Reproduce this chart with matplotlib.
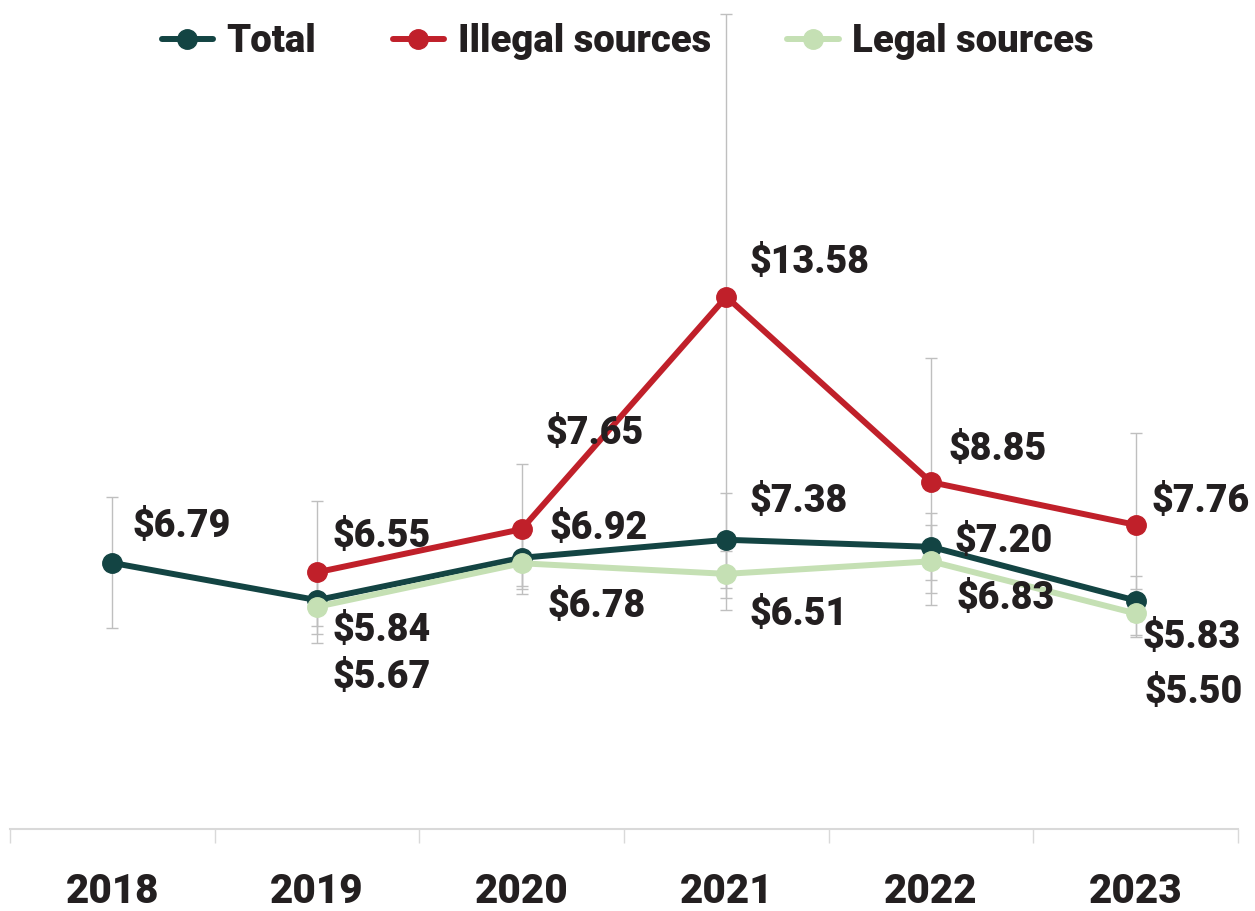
import numpy as np
import matplotlib.pyplot as plt

years = ['2018', '2019', '2020', '2021', '2022', '2023']
total = [6.79, 5.84, 6.92, 7.38, 7.20, 5.83]
illegal = [np.nan, 6.55, 7.65, 13.58, 8.85, 7.76]
legal = [np.nan, 5.67, 6.78, 6.51, 6.83, 5.50]

# confidence bounds (low, high)
total_lo = [5.13, 5.18, 6.20, 6.15, 6.35, 5.30]
total_hi = [8.47, 6.50, 7.60, 8.57, 8.06, 6.45]
illegal_lo = [np.nan, 4.74, 5.99, 5.59, 5.71, 4.95]
illegal_hi = [np.nan, 8.37, 9.31, 20.80, 12.02, 10.10]
legal_lo = [np.nan, 4.97, 6.12, 5.90, 6.02, 4.90]
legal_hi = [np.nan, 6.37, 7.45, 7.10, 7.76, 6.12]

C_TOTAL = '#134443'
C_ILLEGAL = '#c0202a'
C_LEGAL = '#c5e0b4'
C_TEXT = '#231f20'
C_ERR = '#bfbfbf'

plt.rcParams['font.family'] = ['Roboto', 'DejaVu Sans']

fig = plt.figure(figsize=(12.55, 9.11), dpi=100)
ax = fig.add_axes([10 / 1255, 82 / 911, 1228 / 1255, 823 / 911])
x = np.arange(len(years))

series = [
    ('Total', total, total_lo, total_hi, C_TOTAL),
    ('Illegal sources', illegal, illegal_lo, illegal_hi, C_ILLEGAL),
    ('Legal sources', legal, legal_lo, legal_hi, C_LEGAL),
]

for name, vals, lo, hi, col in series:
    v = np.array(vals)
    err = [v - np.array(lo), np.array(hi) - v]
    ax.errorbar(x, v, yerr=err, fmt='none', ecolor=C_ERR, elinewidth=1,
                capsize=4.5, capthick=1, zorder=1)

for name, vals, lo, hi, col in series:
    ax.plot(x, vals, color=col, lw=4.3, marker='o', ms=14, label=name,
            zorder=3, solid_capstyle='round')

# label offsets in pixels (dx, dy) from each point, left-aligned text
offsets = {
    'Total': [(20, 36), (16, -30), (28, 29), (23, 38), (24, 5), (7, -37)],
    'Illegal sources': [None, (16, 36), (24, 96), (23, 34), (18, 33), (16, 23)],
    'Legal sources': [None, (16, -71), (26, -43), (23, -41), (26, -37), (9, -79)],
}
for name, vals, lo, hi, col in series:
    for i, v in enumerate(vals):
        if np.isnan(v):
            continue
        dx, dy = offsets[name][i]
        ax.annotate(f'${v:.2f}', (x[i], v), xytext=(dx, dy),
                    textcoords='offset pixels', ha='left', va='center',
                    fontsize=27, fontweight='black', color=C_TEXT, zorder=5)

ax.set_xlim(-0.5, len(years) - 0.5)
ax.set_ylim(0, 21)
ax.set_yticks([])
for s in ['left', 'right', 'top']:
    ax.spines[s].set_visible(False)
ax.spines['bottom'].set_color('#d9d9d9')
ax.spines['bottom'].set_linewidth(1.5)

ax.set_xticks(np.arange(len(years) + 1) - 0.5)
ax.set_xticklabels([])
ax.tick_params(axis='x', which='major', length=10, color='#d9d9d9', width=1)
ax.set_xticks(x, minor=True)
ax.set_xticklabels(years, minor=True, fontsize=29, fontweight='black', color=C_TEXT)
ax.tick_params(axis='x', which='minor', length=0, pad=31)

fig.legend(loc='center', bbox_to_anchor=(0.5, 1 - 42 / 911), ncol=3, frameon=False,
           prop={'size': 27.5, 'weight': 'black'}, handlelength=1.35,
           handletextpad=0.35, columnspacing=2.0, labelcolor=C_TEXT)

fig.savefig('out.png', dpi=100)
